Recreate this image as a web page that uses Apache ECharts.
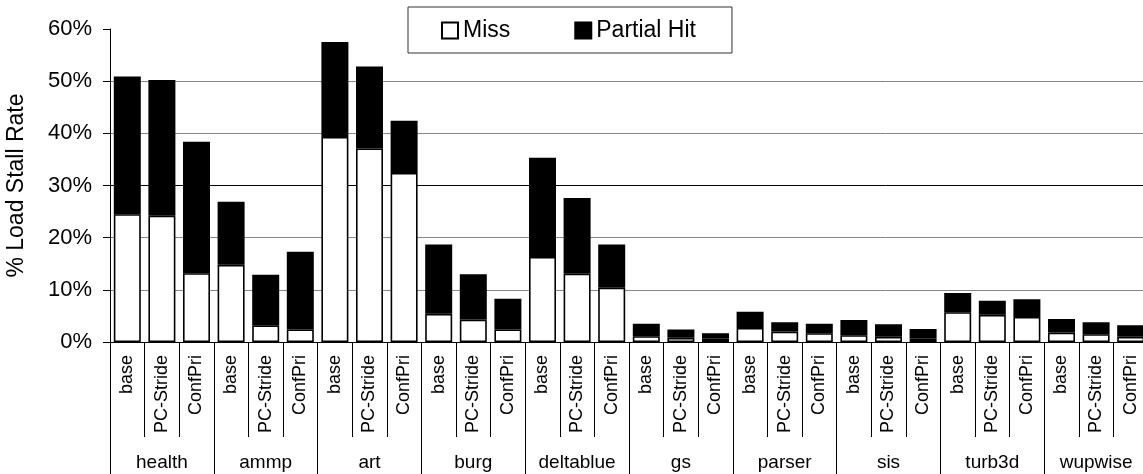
<!DOCTYPE html>
<html>
<head>
<meta charset="utf-8">
<script src="https://cdn.jsdelivr.net/npm/echarts@6/dist/echarts.min.js"></script>
<style>
  html, body { margin: 0; padding: 0; background: #fff; }
  #chart { width: 1143px; height: 474px; }
</style>
</head>
<body>
<div id="chart"></div>
<script>
// Benchmarks and prefetcher configurations
const benchmarks = ['health', 'ammp', 'art', 'burg', 'deltablue', 'gs', 'parser', 'sis', 'turb3d', 'wupwise'];
const configs = ['base', 'PC-Stride', 'ConfPri'];

// Load stall rate (%) per benchmark x configuration, in benchmark order
const missRate = [
  24.5, 24.2, 13.2,
  14.8, 3.2, 2.4,
  39.3, 37.1, 32.4,
  5.4, 4.3, 2.4,
  16.3, 13.1, 10.4,
  1.1, 0.8, 0.6,
  2.7, 2.0, 1.7,
  1.3, 1.0, 0.6,
  5.7, 5.2, 4.8,
  1.8, 1.5, 1.0
];
const partialHitRate = [
  26.4, 26.0, 25.2,
  12.1, 9.7, 14.9,
  18.2, 15.7, 10.0,
  13.3, 8.7, 5.9,
  19.0, 14.5, 8.3,
  2.4, 1.6, 1.1,
  3.1, 1.8, 1.8,
  2.9, 2.4, 1.9,
  3.7, 2.7, 3.4,
  2.6, 2.3, 2.2
];

const yTicks = { min: 0, max: 60, interval: 10 };

const categories = [];
benchmarks.forEach(function () { configs.forEach(function (c) { categories.push(c); }); });

const FONT = '"Liberation Sans", Arial, sans-serif';

const chart = echarts.init(document.getElementById('chart'), null, { renderer: 'canvas' });

chart.setOption({
  animation: false,
  backgroundColor: '#fff',
  textStyle: { fontFamily: FONT },
  legend: {
    left: 408,
    top: 7,
    padding: [12, 36, 11, 33],
    itemWidth: 16,
    itemHeight: 16,
    itemGap: 64,
    borderColor: '#333',
    borderWidth: 1,
    icon: 'rect',
    textStyle: { fontSize: 23, color: '#000', fontFamily: FONT },
    data: ['Miss', 'Partial Hit']
  },
  grid: {
    left: 110,
    top: 29,
    width: 1038,
    height: 313,
    containLabel: false,
    outerBoundsMode: 'none'
  },
  xAxis: [
    {
      // configuration labels, one per bar
      type: 'category',
      data: categories,
      position: 'bottom',
      axisLine: { show: true, lineStyle: { color: '#000', width: 1 } },
      axisTick: { show: true, interval: 0, length: 95, lineStyle: { color: '#000', width: 1 } },
      axisLabel: {
        interval: 0,
        rotate: 90,
        margin: 13,
        fontSize: 18,
        color: '#000',
        fontFamily: FONT
      }
    },
    {
      // benchmark group labels underneath
      type: 'category',
      data: benchmarks,
      position: 'bottom',
      gridIndex: 0,
      axisLine: { show: false },
      axisTick: { show: true, interval: 0, length: 132, lineStyle: { color: '#000', width: 1 } },
      axisLabel: {
        interval: 0,
        margin: 111,
        fontSize: 19,
        color: '#000',
        fontFamily: FONT
      }
    }
  ],
  yAxis: {
    type: 'value',
    min: yTicks.min,
    max: yTicks.max,
    interval: yTicks.interval,
    name: '% Load Stall Rate',
    nameLocation: 'middle',
    nameRotate: 90,
    nameGap: 82,
    nameTextStyle: { fontSize: 23, color: '#000', fontFamily: FONT },
    axisLine: { show: true, lineStyle: { color: '#000', width: 1 } },
    axisTick: { show: true, inside: false, length: 7, lineStyle: { color: '#000' } },
    axisLabel: {
      formatter: '{value}%',
      fontSize: 22,
      color: '#000',
      margin: 18,
      fontFamily: FONT
    },
    splitLine: {
      show: true,
      showMaxLine: false,
      lineStyle: {
        color: ['#868686', '#868686', '#868686', '#000', '#868686', '#868686', '#868686'],
        width: 1
      }
    }
  },
  series: [
    {
      name: 'Miss',
      type: 'bar',
      stack: 'stall',
      xAxisIndex: 0,
      barWidth: 27,
      data: missRate,
      itemStyle: { color: '#fff', borderColor: '#000', borderWidth: 1.6 }
    },
    {
      name: 'Partial Hit',
      type: 'bar',
      stack: 'stall',
      xAxisIndex: 0,
      barWidth: 27,
      data: partialHitRate,
      itemStyle: { color: '#000', borderColor: '#000', borderWidth: 1.6 }
    }
  ]
});
</script>
</body>
</html>
